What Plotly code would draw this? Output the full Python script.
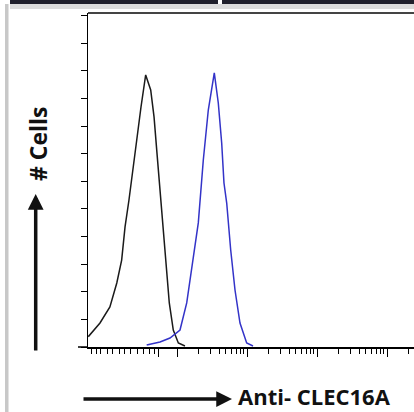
import plotly.graph_objects as go

# ---- data ----
control_x = [5.41, 7.94, 11.0, 13.8, 16.2, 18.1, 20.6, 23.3, 26.6, 30.6, 35.7,
             42.1, 47.0, 51.3, 57.2, 63.7, 69.7, 77.6, 88.5, 104.5, 130]
control_y = [7.5, 17.4, 29.0, 46.4, 63.0, 87.0, 106.5, 126.1, 150, 173.9, 197.1,
             186.2, 166.7, 142.8, 113.8, 87, 60.9, 31.9, 12.3, 2.9, 0.7]

clec_x = [36.9, 57.2, 79.4, 110.4, 137.7, 171, 201.5, 237.6, 280, 341, 389,
          435, 469, 513, 585, 674, 794, 990, 1219]
clec_y = [1.4, 3.6, 6.5, 12.3, 31.9, 65.2, 89.9, 135.5, 171.7, 198.6, 176.8,
          147.8, 118.8, 104.3, 70.3, 41.3, 17.4, 2.9, 0.7]

x_major_ticks = [55, 100, 1000, 10000, 100000]
x_dense_ticks = [6, 7, 8, 10, 12, 15, 18, 22, 27, 33, 40, 47]
y_ticks = [0, 20, 40, 60, 80, 100, 120, 140, 160, 180, 200, 220, 240]

x_label = "Anti- CLEC16A"
y_label = "# Cells"

# minor ticks of each decade
minor = list(x_dense_ticks)
for dec in [100, 1000, 10000, 100000]:
    for m in range(2, 10):
        minor.append(dec * m)

fig = go.Figure()
fig.add_trace(go.Scatter(x=control_x, y=control_y, mode="lines",
                         line=dict(color="#1a1a1a", width=1.5), showlegend=False,
                         hoverinfo="skip"))
fig.add_trace(go.Scatter(x=clec_x, y=clec_y, mode="lines",
                         line=dict(color="#3333c8", width=1.5), showlegend=False,
                         hoverinfo="skip"))

L = 0.7286
R = L + 326 / 70

fig.update_xaxes(type="log", range=[L, R], showline=True, linecolor="black", linewidth=1.5,
                 tickmode="array", tickvals=x_major_ticks, ticktext=[""] * len(x_major_ticks),
                 ticks="outside", ticklen=8, tickwidth=1, tickcolor="black",
                 minor=dict(tickmode="array", tickvals=minor, ticks="outside", ticklen=5,
                            tickwidth=1, tickcolor="black", showgrid=False),
                 showgrid=False, zeroline=False, automargin=False)
fig.update_yaxes(range=[0, 242], showline=True, linecolor="black", linewidth=1.5,
                 tickmode="array", tickvals=y_ticks, ticktext=[""] * len(y_ticks),
                 ticks="outside", ticklen=6, tickwidth=1, tickcolor="black",
                 showgrid=False, zeroline=False, automargin=False)

def px(x):
    return (x - 88) / 326

def py(y):
    return (347 - y) / 334

shapes = [
    # top frame line
    dict(type="line", xref="paper", yref="paper", x0=0, x1=1, y0=1, y1=1,
         line=dict(color="#444444", width=2)),
    # bottom axis extension to the left
    dict(type="line", xref="paper", yref="paper", x0=px(78), x1=0, y0=0, y1=0,
         line=dict(color="black", width=1.5)),
    # decorative dark header bars
    dict(type="rect", xref="paper", yref="paper", x0=px(10), x1=px(218), y0=py(4), y1=py(-2),
         fillcolor="#20202c", line=dict(width=0)),
    dict(type="rect", xref="paper", yref="paper", x0=px(222), x1=px(416), y0=py(4), y1=py(-2),
         fillcolor="#20202c", line=dict(width=0)),
    dict(type="rect", xref="paper", yref="paper", x0=px(10), x1=px(416), y0=py(9), y1=py(4),
         fillcolor="#dcdcdc", line=dict(width=0)),
    # left gray frame
    dict(type="rect", xref="paper", yref="paper", x0=px(5), x1=px(8.5), y0=py(414), y1=py(4),
         fillcolor="#c8c8c8", line=dict(width=0)),
]

annotations = [
    dict(xref="paper", yref="paper", x=px(38), y=py(144), text="<b>" + y_label + "</b>",
         textangle=-90, showarrow=False, font=dict(family="Open Sans", size=23, color="#111"),
         xanchor="center", yanchor="middle"),
    dict(xref="paper", yref="paper", x=px(237), y=py(396), text="<b>" + x_label + "</b>",
         showarrow=False, font=dict(family="Open Sans", size=22, color="#111"),
         xanchor="left", yanchor="middle", borderpad=0),
    dict(xref="paper", yref="paper", x=px(35.7), y=py(194), text="", showarrow=True,
         ax=0, ay=158, arrowhead=2, arrowsize=0.9, arrowwidth=3.5, arrowcolor="#111"),
    dict(xref="paper", yref="paper", x=px(232), y=py(399), text="", showarrow=True,
         ax=-150, ay=0, arrowhead=2, arrowsize=0.9, arrowwidth=3.5, arrowcolor="#111"),
]

fig.update_layout(width=414, height=412, margin=dict(l=88, r=0, t=13, b=65),
                  paper_bgcolor="white", plot_bgcolor="white",
                  shapes=shapes, annotations=annotations)

fig.write_html("out.html", config={"displayModeBar": False, "staticPlot": True},
               post_script="document.body.style.margin='0';document.body.style.overflow='hidden';")
